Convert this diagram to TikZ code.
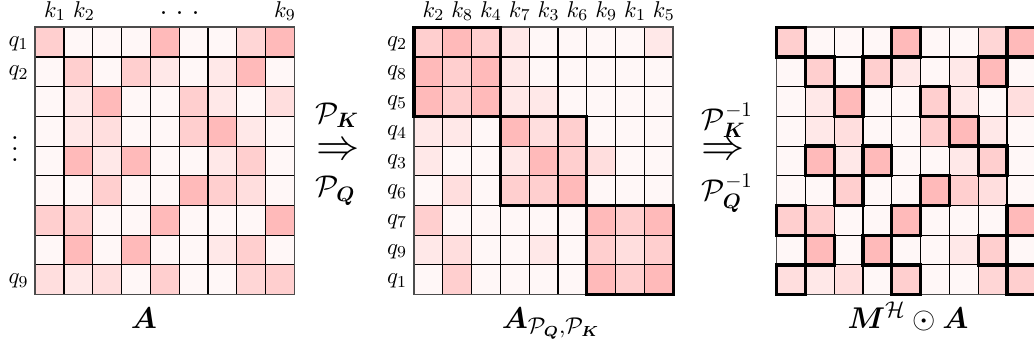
\documentclass[tikz,border=0pt]{standalone}
\usepackage{amsmath}
\usepackage{bm}
\colorlet{lv0}{red!3}
\colorlet{lv1}{red!9}
\colorlet{lv2}{red!13}
\colorlet{lv3}{red!19}
\colorlet{lv4}{red!27}
\colorlet{lv5}{red!16}
\def\cellw{28.8}
\def\cellh{29.7}
\def\gtop{27.3}
\newcommand\mygrid[2]{%
  \begin{scope}[shift={(#1,\gtop)}]
  \foreach \v [count=\i from 0] in {#2} {%
    \pgfmathtruncatemacro\rr{floor(\i/9)}%
    \pgfmathtruncatemacro\cc{\i-9*\rr}%
    \fill[lv\v] (\cc*\cellw,\rr*\cellh) rectangle ++(\cellw,\cellh);
  }
  \foreach \k in {1,...,8} {%
    \draw[gline] (\k*\cellw,0) -- (\k*\cellw,9*\cellh);
    \draw[gline] (0,\k*\cellh) -- (9*\cellw,\k*\cellh);
  }
  \draw[gouter] (0,0) rectangle (9*\cellw,9*\cellh);
  \end{scope}}
\newcommand\bcell[3]{%
  \draw[gbold] ({#1+(#3)*\cellw},{\gtop+(#2)*\cellh}) rectangle ++(\cellw,\cellh);}
\newcommand\bblock[3]{%
  \draw[gbold] ({#1+(#3)*\cellw},{\gtop+(#2)*\cellh}) rectangle ++(3*\cellw,3*\cellh);}
\newcommand\myvdots{\vbox{\baselineskip=5.2pt\lineskiplimit=0pt\hbox{.}\hbox{.}\hbox{.}}}
\newcommand\myhdots{\hbox{.\kern3.6pt.\kern3.6pt.}}
\begin{document}
\begin{tikzpicture}[x=0.48pt,y=-0.48pt,
  gline/.style={black,line width=0.5pt},
  gouter/.style={black!70,line width=0.8pt},
  gbold/.style={black,line width=1.55pt},
  klab/.style={anchor=base,inner sep=0pt,font=\fontsize{11}{13}\selectfont},
  qlab/.style={anchor=mid east,inner sep=0pt,font=\fontsize{11}{13}\selectfont},
  oplab/.style={anchor=base west,inner sep=0pt,font=\Large},
  arr/.style={inner sep=0pt,font=\fontsize{20}{24}\selectfont},
  title/.style={anchor=base,inner sep=0pt,font=\fontsize{15}{18}\selectfont}]
\useasboundingbox (0,0) rectangle (1034,345);
\clip (0,0) rectangle (1034,345);
\fill[white] (0,0) rectangle (1034,345);
% grid A
\mygrid{35.2}{3,0,0,0,4,0,0,5,4,
0,3,0,3,1,0,1,4,0,
0,1,4,0,0,3,1,0,2,
0,1,2,0,0,3,4,1,0,
0,4,1,4,0,0,1,3,0,
0,0,3,0,0,4,3,2,0,
3,3,0,0,4,0,0,0,4,
0,4,0,4,0,0,1,3,0,
2,1,2,0,3,0,0,5,3}
% grid permuted
\mygrid{414}{3,4,3,1,0,0,0,0,1,
4,3,4,1,0,0,0,0,0,
4,3,4,1,1,0,0,0,0,
1,1,0,4,2,3,0,0,0,
1,0,0,1,4,3,2,0,0,
0,2,0,3,3,4,0,0,0,
3,0,0,0,0,0,4,3,4,
1,2,0,0,1,0,3,2,3,
0,3,0,0,0,0,4,3,4}
\bblock{414}{0}{0}
\bblock{414}{3}{3}
\bblock{414}{6}{6}
% grid masked
\mygrid{776.6}{3,0,0,0,4,0,0,5,4,
0,3,0,3,1,0,1,4,0,
0,1,4,0,0,3,1,0,2,
0,1,2,0,0,3,4,1,0,
0,4,1,4,0,0,1,3,0,
0,0,3,0,0,4,3,2,0,
3,3,0,0,4,0,0,0,4,
0,4,0,4,0,0,1,3,0,
2,1,2,0,3,0,0,5,3}
\foreach \r/\c in {0/0,0/4,0/8,1/1,1/3,1/7,2/2,2/5,3/6,4/1,4/3,4/7,5/2,5/5,6/0,6/4,6/8,7/1,7/3,7/7,8/0,8/4,8/8}{\bcell{776.6}{\r}{\c}}
% labels grid A
\node[klab] (ak1) at (55,17.5) {$k_1$};
\node[klab] (ak2) at (84,17.5) {$k_2$};
\node[inner sep=0pt,font=\LARGE] (adots) at (180,13.5) {\myhdots};
\node[klab] (ak9) at (285,17.5) {$k_9$};
\node[qlab] (aq1) at (29,41.6) {$q_1$};
\node[qlab] (aq2) at (29,71.3) {$q_2$};
\node[inner sep=0pt,font=\Large] (avd) at (15,149) {\myvdots};
\node[qlab] (aq9) at (29,279.2) {$q_9$};
% labels grid 2
\foreach \t [count=\j from 0] in {2,8,4,7,3,6,9,1,5}{
  \node[klab] (bk\t) at ({414+14.4+\j*\cellw+5},17.5) {$k_{\t}$};}
\foreach \t [count=\j from 0] in {2,8,5,4,3,6,7,9,1}{
  \node[qlab] (bq\t) at (407.5,{\gtop+14.85+\j*\cellh-0.5}) {$q_{\t}$};}
% operators
\node[oplab] (op1a) at (315,123) {$\mathcal{P}_{\bm{K}}$};
\node[arr] (op1b) at (338,152) {$\Rightarrow$};
\node[oplab] (op1c) at (315,196.5) {$\mathcal{P}_{\bm{Q}}$};
\node[oplab] (op2a) at (701.5,129) {$\mathcal{P}_{\bm{K}}^{-1}$};
\node[arr] (op2b) at (723,152) {$\Rightarrow$};
\node[oplab] (op2c) at (701.5,200) {$\mathcal{P}_{\bm{Q}}^{-1}$};
% titles
\node[title] (t1) at (144,328) {$\bm{A}$};
\node[title] (t2) at (551,328) {$\bm{A}_{\mathcal{P}_{\bm{Q}},\mathcal{P}_{\bm{K}}}$};
\node[title] (t3) at (908,328) {$\bm{M}^{\mathcal{H}}\odot\bm{A}$};
\end{tikzpicture}
\end{document}
